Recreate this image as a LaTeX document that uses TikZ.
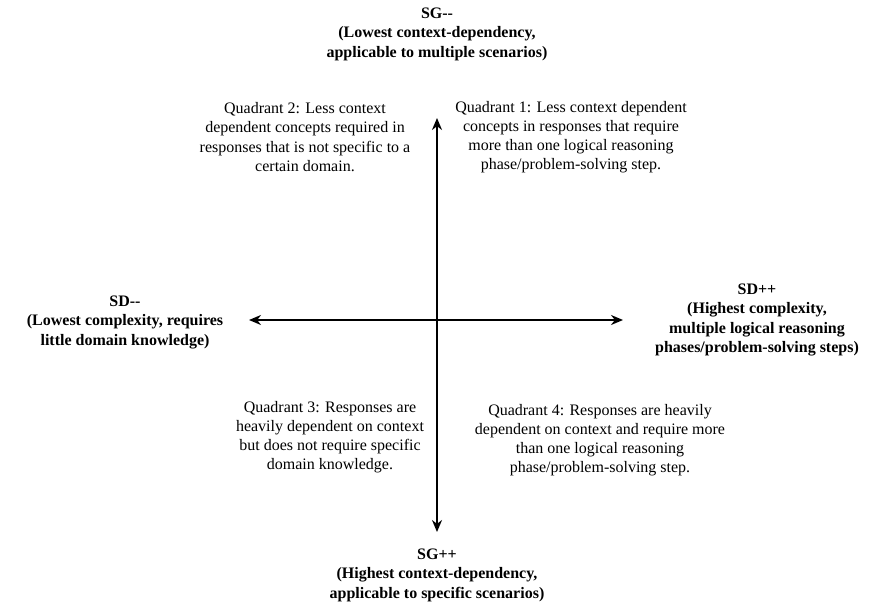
\documentclass[tikz,border=0pt]{standalone}
\usepackage{fontspec}
\setmainfont{Liberation Serif}[Ligatures=TeXOff,BoldFont={Liberation Serif Bold}]
\usetikzlibrary{arrows.meta}

\begin{document}
\begin{tikzpicture}[x=1pt,y=-1pt,
    axis/.style={line width=2.6pt,{Stealth[length=12pt,width=10pt]}-{Stealth[length=12pt,width=10pt]}},
    quad/.style={align=center,inner sep=0pt,font=\fontsize{16}{19.2}\selectfont},
    pole/.style={quad,font=\fontsize{16}{19.5}\selectfont\bfseries}]
    \useasboundingbox (0,0) rectangle (875,613);

    \coordinate (top) at (437,118);
    \coordinate (bottom) at (437,532);
    \coordinate (left) at (249,320);
    \coordinate (right) at (623,320);

    \draw[axis] (top) -- (bottom);
    \draw[axis] (left) -- (right);

    \node[pole] (sgminus) at (437,34) {SG--\\(Lowest context-dependency,\\applicable to multiple scenarios)};
    \node[pole] (sgplus) at (437,575) {SG++\\(Highest context-dependency,\\applicable to specific scenarios)};
    \node[pole] (sdminus) at (125,322) {SD--\\(Lowest complexity, requires\\little domain knowledge)};
    \node[pole] (sdplus) at (757,320) {SD++\\(Highest complexity,\\multiple logical reasoning\\phases/problem-solving steps)};

    \node[quad] (q1) at (571,137) {Quadrant 1: Less context dependent\\concepts in responses that require\\more than one logical reasoning\\phase/problem-solving step.};
    \node[quad] (q2) at (305,137) {Quadrant 2: Less context\\dependent concepts required in\\responses that is not specific to a\\certain domain.};
    \node[quad] (q3) at (330,437) {Quadrant 3: Responses are\\heavily dependent on context\\but does not require specific\\domain knowledge.};
    \node[quad] (q4) at (600,440) {Quadrant 4: Responses are heavily\\dependent on context and require more\\than one logical reasoning\\phase/problem-solving step.};
\end{tikzpicture}
\end{document}
